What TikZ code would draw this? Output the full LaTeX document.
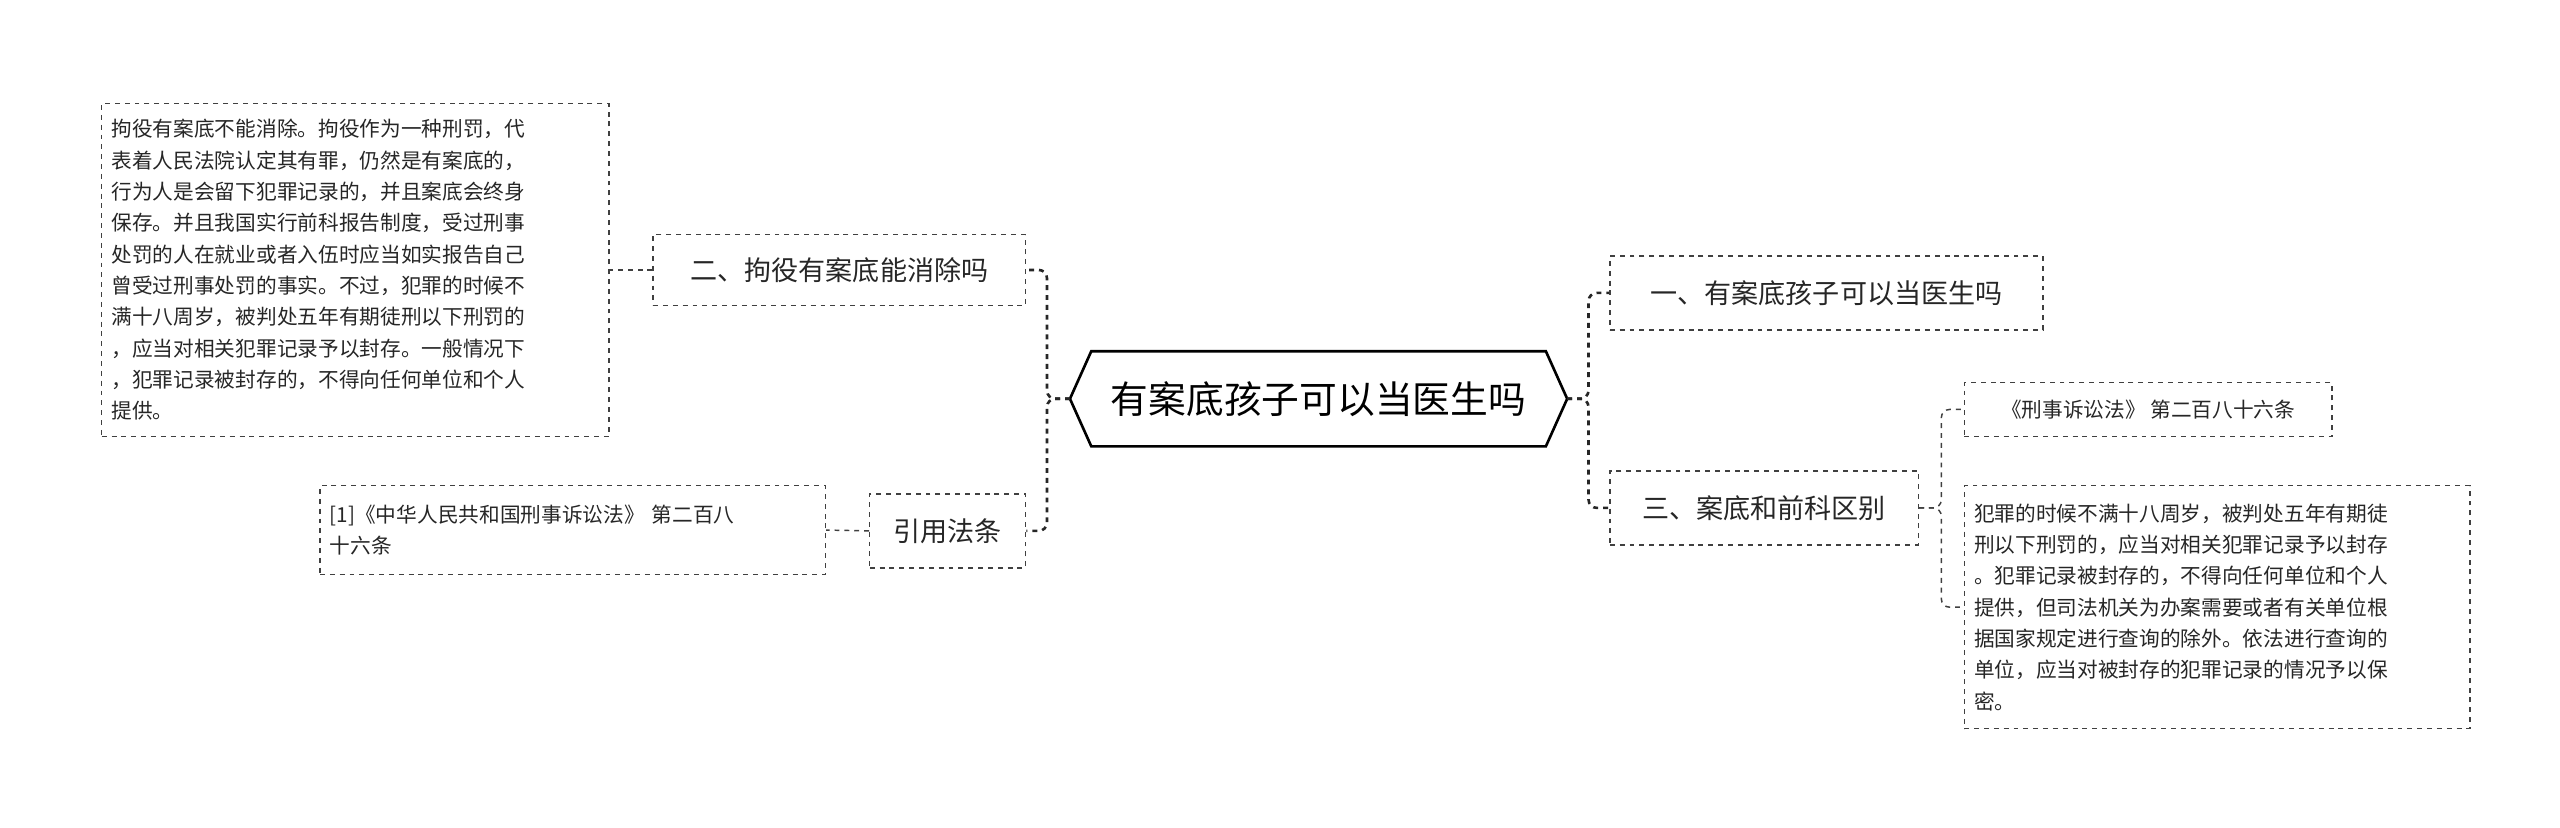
\documentclass[tikz,border=0pt]{standalone}
\usepackage{fontspec}
\setmainfont{Noto Sans CJK SC}
\begin{document}
\begin{tikzpicture}[x=1pt,y=-1pt,
  box/.style={draw=black!75,dashed,line width=0.9pt,inner sep=0pt,text=black!85},
  conn/.style={draw=black!85,dashed,line width=1.6pt,rounded corners=5pt},
  thin/.style={draw=black!75,dashed,line width=0.9pt,rounded corners=5pt}]
\useasboundingbox (0,0) rectangle (1560,504);
% center
\draw[line width=1.6pt,fill=white] (652,243)--(665,214)--(942,214)--(955,243)--(942,272)--(665,272)--cycle;
\node[font=\fontsize{23}{26}\selectfont] (c) at (803.5,243) {有案底孩子可以当医生吗};
\coordinate (cl) at (652,243);
\coordinate (cr) at (955,243);
% left
\node[box,minimum width=227pt,minimum height=43pt,font=\fontsize{16.5}{20}\selectfont] (l1) at (511.5,164.5) {二、拘役有案底能消除吗};
\node[box,minimum width=95pt,minimum height=45pt,font=\fontsize{16.5}{20}\selectfont] (l2) at (577.5,323.5) {引用法条};
\node[box,minimum width=309pt,minimum height=203pt,align=left,text width=297pt,font=\fontsize{12.6}{19.1}\selectfont] (t1) at (216.5,164.5) {拘役有案底不能消除。拘役作为一种刑罚，代\\表着人民法院认定其有罪，仍然是有案底的，\\行为人是会留下犯罪记录的，并且案底会终身\\保存。并且我国实行前科报告制度，受过刑事\\处罚的人在就业或者入伍时应当如实报告自己\\曾受过刑事处罚的事实。不过，犯罪的时候不\\满十八周岁，被判处五年有期徒刑以下刑罚的\\，应当对相关犯罪记录予以封存。一般情况下\\，犯罪记录被封存的，不得向任何单位和个人\\提供。};
\node[box,minimum width=308pt,minimum height=54pt,align=left,text width=296pt,font=\fontsize{12.6}{19.1}\selectfont] (t2) at (349,323) {[1]《中华人民共和国刑事诉讼法》 第二百八\\十六条};
% right
\node[box,minimum width=264pt,minimum height=45pt,font=\fontsize{16.5}{20}\selectfont] (r1) at (1113,178.5) {一、有案底孩子可以当医生吗};
\node[box,minimum width=188pt,minimum height=45pt,font=\fontsize{16.5}{20}\selectfont] (r2) at (1075,309.5) {三、案底和前科区别};
\node[box,minimum width=224pt,minimum height=33pt,font=\fontsize{12.6}{16}\selectfont] (t3) at (1309,249.5) {《刑事诉讼法》 第二百八十六条};
\node[box,minimum width=308pt,minimum height=148pt,align=left,text width=296pt,font=\fontsize{12.6}{19.1}\selectfont] (t4) at (1351,370) {犯罪的时候不满十八周岁，被判处五年有期徒\\刑以下刑罚的，应当对相关犯罪记录予以封存\\。犯罪记录被封存的，不得向任何单位和个人\\提供，但司法机关为办案需要或者有关单位根\\据国家规定进行查询的除外。依法进行查询的\\单位，应当对被封存的犯罪记录的情况予以保\\密。};
% connectors
\draw[conn] (cl) -- (638,243) |- (l1.east);
\draw[conn] (cl) -- (638,243) |- (l2.east);
\draw[conn] (cr) -- (968,243) |- (r1.west);
\draw[conn] (cr) -- (968,243) |- (r2.west);
\draw[thin] (l1.west) -- (t1.east);
\draw[thin] (l2.west) -- (t2.east);
\draw[thin] (r2.east) -- (1183,309.5) |- (t3.west);
\draw[thin] (r2.east) -- (1183,309.5) |- (t4.west);
\end{tikzpicture}
\end{document}
